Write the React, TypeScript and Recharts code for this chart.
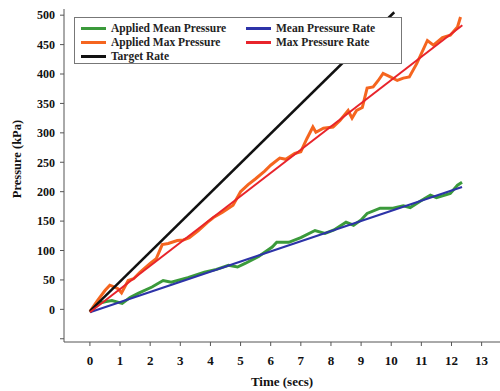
import { LineChart, Line, XAxis, YAxis, Legend, Label } from "recharts"

// applied max pressure (orange)
const maxTime = [0, 0.25, 0.5, 0.66, 0.8, 0.93, 1.05, 1.27, 1.45, 1.66, 2.0, 2.2, 2.4, 2.6, 2.9, 3.1, 3.3, 3.6, 3.9, 4.1, 4.4, 4.75, 5.0, 5.25, 5.5, 5.8, 6.0, 6.3, 6.5, 6.8, 7.0, 7.2, 7.4, 7.5, 7.75, 8.07, 8.3, 8.57, 8.7, 8.85, 9.04, 9.2, 9.4, 9.57, 9.73, 9.97, 10.2, 10.4, 10.6, 10.85, 11.2, 11.4, 11.7, 11.96, 12.2, 12.3]
const maxPressure = [-4, 15, 32, 41, 38, 35, 28, 49, 52, 63, 78, 86, 110, 112, 117, 118, 122, 134, 148, 156, 165, 177, 200, 212, 222, 235, 245, 257, 255, 265, 268, 290, 310, 301, 308, 310, 321, 338, 325, 338, 343, 376, 378, 389, 401, 395, 389, 393, 395, 418, 457, 449, 462, 466, 480, 497]

// applied mean pressure (green)
const meanTime = [0, 0.27, 0.5, 0.73, 1.07, 1.33, 1.6, 2.06, 2.43, 2.7, 3.25, 3.8, 4.2, 4.6, 4.9, 5.15, 5.6, 6.05, 6.2, 6.6, 7.0, 7.47, 7.8, 8.1, 8.5, 8.75, 9.0, 9.2, 9.63, 10.06, 10.4, 10.63, 11.0, 11.3, 11.5, 11.96, 12.2, 12.35]
const meanPressure = [-5, 10, 13, 15, 10, 20, 27, 38, 49, 46, 54, 63, 68, 75, 72, 78, 90, 106, 114, 114, 122, 134, 129, 135, 148, 143, 152, 163, 172, 172, 176, 173, 185, 194, 190, 197, 211, 216]

// fitted / target rate lines (start and end points)
const targetTime = [0, 10.1]
const targetPressure = [-3, 505]
const maxRateTime = [0, 12.36]
const maxRatePressure = [-5, 483]
const meanRateTime = [0, 12.35]
const meanRatePressure = [-5, 208]

const xTicks = [0, 1, 2, 3, 4, 5, 6, 7, 8, 9, 10, 11, 12, 13]
const yTicks = [-50, 0, 50, 100, 150, 200, 250, 300, 350, 400, 450, 500]

const toPoints = (t: number[], p: number[]) => t.map((x, i) => ({ t: x, p: p[i] }))

const series = [
  { name: "Applied Mean Pressure", data: toPoints(meanTime, meanPressure), color: "#3b9a3b", width: 3 },
  { name: "Applied Max Pressure", data: toPoints(maxTime, maxPressure), color: "#f5651f", width: 3 },
  { name: "Target Rate", data: toPoints(targetTime, targetPressure), color: "#111111", width: 2.5 },
  { name: "Mean Pressure Rate", data: toPoints(meanRateTime, meanRatePressure), color: "#2d33a8", width: 2.2 },
  { name: "Max Pressure Rate", data: toPoints(maxRateTime, maxRatePressure), color: "#e8242b", width: 2 },
]

const font = "'Liberation Serif', 'DejaVu Serif', serif"

function LegendBox() {
  const order = [series[0], series[3], series[1], series[4], series[2]]
  return (
    <div
      style={{
        border: "1px solid #777",
        background: "#fff",
        width: 328,
        height: 47,
        boxSizing: "border-box",
        padding: "3px 0 0 6px",
        display: "grid",
        gridTemplateColumns: "165px 160px",
        rowGap: 0,
        fontFamily: font,
        fontWeight: "bold",
        fontSize: 11.5,
        color: "#222",
        lineHeight: "13px",
        textAlign: "left",
      }}
    >
      {order.map((s) => (
        <div key={s.name} style={{ display: "flex", alignItems: "center", gap: 5 }}>
          <div style={{ width: 25, height: 3, background: s.color }} />
          <span>{s.name}</span>
        </div>
      ))}
    </div>
  )
}

export default function App() {
  return (
    <div style={{ position: "absolute", left: 0, top: 0, background: "#fff" }}>
      <LineChart width={500} height={391} margin={{ top: 9, right: 0, bottom: 0, left: 0 }}>
        <XAxis
          dataKey="t"
          type="number"
          domain={[-0.86, 13.61]}
          ticks={xTicks}
          allowDataOverflow
          height={49}
          tickSize={4}
          tickMargin={10}
          stroke="#555"
          tick={{ fill: "#111", fontSize: 13, fontWeight: "bold", fontFamily: font }}
        >
          <Label value="Time (secs)" position="insideBottom" offset={5} style={{ fill: "#111", fontSize: 13, fontWeight: "bold", fontFamily: font }} />
        </XAxis>
        <XAxis xAxisId="top" orientation="top" type="number" domain={[-0.86, 13.61]} height={0} tick={false} tickLine={false} stroke="#555" />
        <YAxis
          type="number"
          domain={[-55.5, 510.5]}
          ticks={yTicks}
          allowDataOverflow
          width={64}
          tickSize={4}
          tickMargin={5}
          stroke="#555"
          tickFormatter={(v: number) => (v < 0 ? "" : String(v))}
          tick={{ fill: "#111", fontSize: 12, fontWeight: "bold", fontFamily: font }}
        >
          <Label
            content={() => (
              <text
                x={18}
                y={159}
                transform="rotate(-90 18 159)"
                textAnchor="middle"
                dominantBaseline="middle"
                style={{ fill: "#111", fontSize: 12.5, fontWeight: "bold", fontFamily: font }}
              >
                Pressure (kPa)
              </text>
            )}
          />
        </YAxis>
        {series.map((s) => (
          <Line
            key={s.name}
            data={s.data}
            dataKey="p"
            name={s.name}
            type="linear"
            stroke={s.color}
            strokeWidth={s.width}
            dot={false}
            isAnimationActive={false}
          />
        ))}
        <Legend
          layout="horizontal"
          verticalAlign="middle"
          align="center"
          content={() => <LegendBox />}
          wrapperStyle={{ position: "absolute", left: 74, top: 17, width: "auto", margin: 0 }}
        />
      </LineChart>
    </div>
  )
}
